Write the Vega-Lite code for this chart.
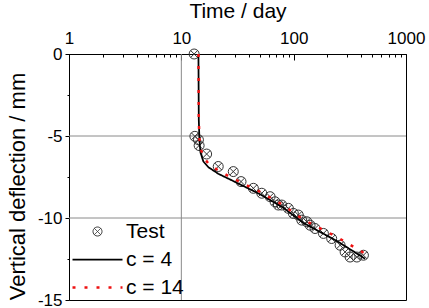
{
  "$schema": "https://vega.github.io/schema/vega-lite/v6.json",
  "width": 337,
  "height": 246,
  "autosize": {"type": "none"},
  "padding": {"left": 69, "top": 54, "right": 23, "bottom": 8},
  "background": "white",
  "config": {
    "view": {"stroke": "black", "strokeWidth": 1},
    "font": "Liberation Sans",
    "axis": {
      "grid": false,
      "domainColor": "black",
      "tickColor": "black",
      "labelColor": "black",
      "titleColor": "black",
      "labelFont": "Liberation Sans",
      "titleFont": "Liberation Sans",
      "titleFontWeight": "normal"
    },
    "legend": {"labelFont": "Liberation Sans"}
  },
  "datasets": {
    "vgrid": [{"day": 10}],
    "hgrid": [{"defl": -5}, {"defl": -10}],
    "test": [
      {"day": 13.0, "defl": 0, "series": "Test"},
      {"day": 13.2, "defl": -5.02, "series": "Test"},
      {"day": 14.2, "defl": -5.23, "series": "Test"},
      {"day": 14.4, "defl": -5.58, "series": "Test"},
      {"day": 16.8, "defl": -6.1, "series": "Test"},
      {"day": 21.3, "defl": -6.86, "series": "Test"},
      {"day": 29.0, "defl": -7.17, "series": "Test"},
      {"day": 34.0, "defl": -7.78, "series": "Test"},
      {"day": 43.8, "defl": -8.19, "series": "Test"},
      {"day": 52.0, "defl": -8.49, "series": "Test"},
      {"day": 61.7, "defl": -8.7, "series": "Test"},
      {"day": 68.3, "defl": -9.01, "series": "Test"},
      {"day": 73.1, "defl": -9.21, "series": "Test"},
      {"day": 78.3, "defl": -9.21, "series": "Test"},
      {"day": 89.7, "defl": -9.41, "series": "Test"},
      {"day": 99.4, "defl": -9.72, "series": "Test"},
      {"day": 110, "defl": -9.82, "series": "Test"},
      {"day": 118, "defl": -10.13, "series": "Test"},
      {"day": 131, "defl": -10.23, "series": "Test"},
      {"day": 140, "defl": -10.44, "series": "Test"},
      {"day": 155, "defl": -10.64, "series": "Test"},
      {"day": 184, "defl": -10.94, "series": "Test"},
      {"day": 218, "defl": -11.25, "series": "Test"},
      {"day": 259, "defl": -11.66, "series": "Test"},
      {"day": 287, "defl": -12.07, "series": "Test"},
      {"day": 318, "defl": -12.38, "series": "Test"},
      {"day": 365, "defl": -12.38, "series": "Test"},
      {"day": 418, "defl": -12.27, "series": "Test"}
    ],
    "model": [
      {"day": 14.2, "defl": 0, "series": "c = 4"},
      {"day": 14.3, "defl": -4.0, "series": "c = 4"},
      {"day": 14.5, "defl": -5.3, "series": "c = 4"},
      {"day": 14.8, "defl": -6.0, "series": "c = 4"},
      {"day": 15.7, "defl": -6.55, "series": "c = 4"},
      {"day": 17.4, "defl": -6.9, "series": "c = 4"},
      {"day": 21.3, "defl": -7.3, "series": "c = 4"},
      {"day": 28.1, "defl": -7.7, "series": "c = 4"},
      {"day": 36.9, "defl": -8.1, "series": "c = 4"},
      {"day": 48.5, "defl": -8.5, "series": "c = 4"},
      {"day": 80, "defl": -9.35, "series": "c = 4"},
      {"day": 122, "defl": -10.3, "series": "c = 4"},
      {"day": 242, "defl": -11.4, "series": "c = 4"},
      {"day": 432, "defl": -12.48, "series": "c = 4"},
      {"day": 14.2, "defl": 0, "series": "c = 14"},
      {"day": 14.3, "defl": -4.0, "series": "c = 14"},
      {"day": 14.5, "defl": -5.2, "series": "c = 14"},
      {"day": 14.9, "defl": -5.8, "series": "c = 14"},
      {"day": 15.8, "defl": -6.3, "series": "c = 14"},
      {"day": 17.5, "defl": -6.7, "series": "c = 14"},
      {"day": 21.3, "defl": -7.1, "series": "c = 14"},
      {"day": 28.1, "defl": -7.55, "series": "c = 14"},
      {"day": 36.9, "defl": -7.95, "series": "c = 14"},
      {"day": 48.5, "defl": -8.35, "series": "c = 14"},
      {"day": 80, "defl": -9.2, "series": "c = 14"},
      {"day": 122, "defl": -10.1, "series": "c = 14"},
      {"day": 242, "defl": -11.15, "series": "c = 14"},
      {"day": 432, "defl": -12.17, "series": "c = 14"}
    ]
  },
  "layer": [
    {
      "data": {"name": "vgrid"},
      "mark": {"type": "rule", "color": "#8a8a8a", "strokeWidth": 1},
      "encoding": {
        "x": {"field": "day", "type": "quantitative", "scale": {"type": "log", "domain": [1, 1000]}}
      }
    },
    {
      "data": {"name": "hgrid"},
      "mark": {"type": "rule", "color": "#8a8a8a", "strokeWidth": 1},
      "encoding": {
        "y": {"field": "defl", "type": "quantitative", "scale": {"domain": [-15, 0], "nice": false}}
      }
    },
    {
      "data": {"name": "test"},
      "mark": {"type": "point", "filled": false, "size": 123, "opacity": 1},
      "encoding": {
        "x": {
          "field": "day", "type": "quantitative",
          "scale": {"type": "log", "domain": [1, 1000]},
          "axis": {
            "orient": "top",
            "title": "Time / day",
            "values": [1,2,3,4,5,6,7,8,9,10,20,30,40,50,60,70,80,90,100,200,300,400,500,600,700,800,900,1000],
            "labelExpr": "(datum.value == 1 || datum.value == 10 || datum.value == 100 || datum.value == 1000) ? toString(datum.value) : ''",
            "labelFlush": false,
            "labelOverlap": false,
            "labelBound": false,
            "labelFontSize": 17,
            "titleFontSize": 21,
            "tickSize": {"condition": {"test": "datum.value == 1 || datum.value == 10 || datum.value == 100 || datum.value == 1000", "value": -6}, "value": -3},
            "labelPadding": 13,
            "titlePadding": 5
          }
        },
        "y": {
          "field": "defl", "type": "quantitative",
          "scale": {"domain": [-15, 0], "nice": false},
          "axis": {
            "title": "Vertical deflection / mm",
            "values": [0, -2.5, -5, -7.5, -10, -12.5, -15],
            "labelExpr": "datum.value % 5 == 0 ? toString(datum.value) : ''",
            "labelOverlap": false,
            "labelBound": false,
            "labelFlush": false,
            "labelFontSize": 17,
            "titleFontSize": 22,
            "tickSize": {"condition": {"test": "datum.value % 5 == 0", "value": 4}, "value": 2},
            "labelPadding": 3,
            "titlePadding": 8,
            "titleY": 132
          }
        },
        "color": {
          "field": "series", "type": "nominal",
          "scale": {"domain": ["Test", "c = 4", "c = 14"], "range": ["#333333", "#000000", "#ee1111"]},
          "legend": {
            "title": null,
            "orient": "bottom-left",
            "offset": 2,
            "padding": 0,
            "symbolSize": 100,
            "symbolOffset": 16,
            "labelFontSize": 21,
            "labelOffset": 18,
            "rowPadding": 6,
            "labelColor": "black"
          }
        },
        "shape": {
          "field": "series", "type": "nominal",
          "scale": {"domain": ["Test", "c = 4", "c = 14"], "range": ["M -0.9 0 A 0.9 0.9 0 1 1 0.9 0 A 0.9 0.9 0 1 1 -0.9 0 Z M -0.636 -0.636 L 0.636 0.636 M -0.636 0.636 L 0.636 -0.636", "M -5 0 L 5 0", "M -5 0 L 5 0"]},
          "legend": {"title": null, "orient": "bottom-left"}
        },
        "strokeWidth": {
          "field": "series", "type": "nominal",
          "scale": {"domain": ["Test", "c = 4", "c = 14"], "range": [1, 2.5, 2.5]},
          "legend": {"title": null, "orient": "bottom-left"}
        }
      }
    },
    {
      "data": {"name": "model"},
      "mark": {"type": "line"},
      "encoding": {
        "x": {"field": "day", "type": "quantitative"},
        "y": {"field": "defl", "type": "quantitative"},
        "color": {"field": "series", "type": "nominal"},
        "strokeDash": {
          "field": "series", "type": "nominal",
          "scale": {"domain": ["Test", "c = 4", "c = 14"], "range": [[1, 0], [1, 0], [3, 9]]},
          "legend": {"title": null, "orient": "bottom-left"}
        },
        "strokeWidth": {"field": "series", "type": "nominal"}
      }
    }
  ]
}
